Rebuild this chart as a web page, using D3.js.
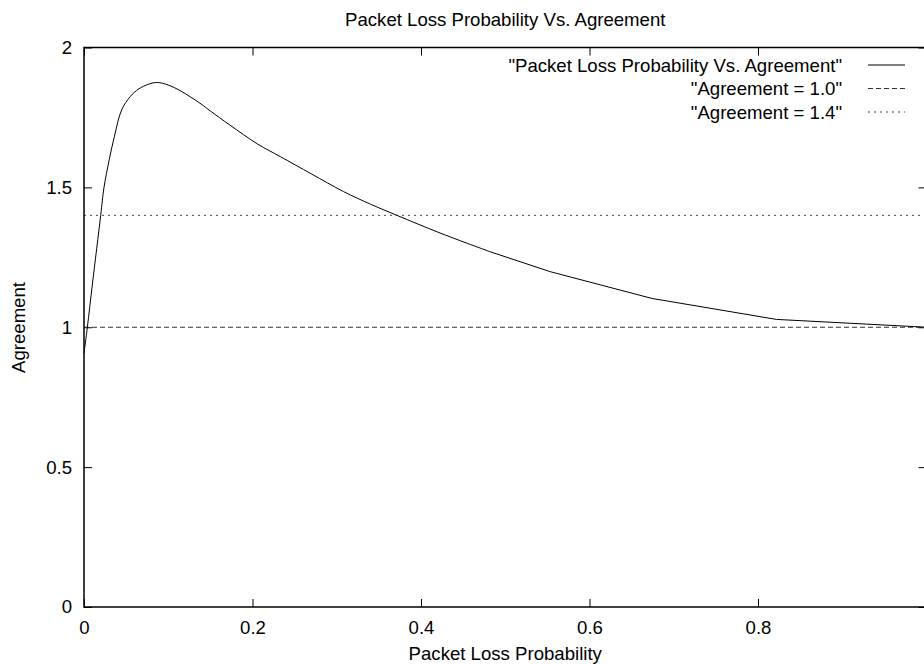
<!DOCTYPE html>
<html>
<head>
<meta charset="utf-8">
<script src="https://cdn.jsdelivr.net/npm/d3@7"></script>
<style>
  body { margin: 0; background: #fff; }
  svg { display: block; font-family: "Liberation Sans", Arial, Helvetica, sans-serif; }
</style>
</head>
<body>
<svg id="chart" width="924" height="664"></svg>
<script>
// ---- data ----
const chartTitle = "Packet Loss Probability Vs. Agreement";
const xLabel = "Packet Loss Probability";
const yLabel = "Agreement";
const lossProb = [0, 0.004, 0.010, 0.0198, 0.0237, 0.030, 0.036, 0.0447, 0.055, 0.065, 0.077, 0.087,
  0.100, 0.114, 0.126, 0.139, 0.150, 0.173, 0.206, 0.233, 0.270, 0.308, 0.340, 0.373, 0.420, 0.455,
  0.482, 0.553, 0.674, 0.822, 1.0];
const agreement = [0.907, 1.0, 1.155, 1.399, 1.499, 1.60, 1.681, 1.777, 1.825, 1.852, 1.869, 1.875,
  1.866, 1.846, 1.824, 1.798, 1.773, 1.723, 1.655, 1.610, 1.548, 1.485, 1.440, 1.398, 1.340, 1.300,
  1.270, 1.199, 1.103, 1.028, 1.0];
const refLevels = [1.0, 1.4];
const legendNames = ['"Packet Loss Probability Vs. Agreement"', '"Agreement = 1.0"', '"Agreement = 1.4"'];
const xTicks = [0, 0.2, 0.4, 0.6, 0.8];
const xTicksAll = [0, 0.2, 0.4, 0.6, 0.8, 1.0];
const yTicks = [0, 0.5, 1, 1.5, 2];

// ---- layout ----
const svg = d3.select("#chart");
const pLeft = 84, pRight = 926.5, pTop = 47.5, pBottom = 607;
const x = d3.scaleLinear().domain([0, 1]).range([pLeft, pRight]);
const y = d3.scaleLinear().domain([0, 2]).range([pBottom, pTop]);
const fs = 18.6;
const styles = [null, "5,3", "2,4"];
const colors = ["#000", "#333", "#444"];

// axes (inward ticks)
const gx = svg.append("g").attr("transform", `translate(0,${pBottom})`)
  .call(d3.axisBottom(x).tickValues(xTicks).tickSize(-8).tickSizeOuter(0).tickPadding(14).tickFormat(d3.format("")));
const gy = svg.append("g").attr("transform", `translate(${pLeft},0)`)
  .call(d3.axisLeft(y).tickValues(yTicks).tickSize(-8).tickSizeOuter(0).tickPadding(12).tickFormat(d3.format("")));
const gt = svg.append("g").attr("transform", `translate(0,${pTop})`)
  .call(d3.axisTop(x).tickValues(xTicksAll).tickSize(-8).tickSizeOuter(0).tickFormat(""));
const gr = svg.append("g").attr("transform", `translate(${pRight},0)`)
  .call(d3.axisRight(y).tickValues(yTicks).tickSize(-8).tickSizeOuter(0).tickFormat(""));
[gx, gy, gt, gr].forEach(g => {
  g.select(".domain").remove();
  g.selectAll(".tick line").attr("stroke", "#000").attr("stroke-width", 1);
  g.selectAll("text").attr("font-size", fs).attr("fill", "#000").attr("font-family", null);
});

// reference lines
refLevels.forEach((v, i) => {
  svg.append("line")
    .attr("x1", x(0)).attr("x2", x(1)).attr("y1", y(v)).attr("y2", y(v))
    .attr("stroke", colors[i + 1]).attr("stroke-width", 1)
    .attr("stroke-dasharray", styles[i + 1]);
});

// curve: smooth where sampled densely, straight segments across the sparse tail
const pts = lossProb.map((p, i) => [p, agreement[i]]);
const splitAt = 0.482;
const line = d3.line().x(d => x(d[0])).y(d => y(d[1]));
svg.append("path")
  .datum(pts.filter(d => d[0] <= splitAt))
  .attr("fill", "none").attr("stroke", "#000").attr("stroke-width", 1)
  .attr("d", line.curve(d3.curveCatmullRom.alpha(0.5)));
svg.append("path")
  .datum(pts.filter(d => d[0] >= splitAt))
  .attr("fill", "none").attr("stroke", "#000").attr("stroke-width", 1)
  .attr("d", line.curve(d3.curveLinear));

// border
svg.append("rect")
  .attr("x", pLeft).attr("y", pTop).attr("width", pRight - pLeft).attr("height", pBottom - pTop)
  .attr("fill", "none").attr("stroke", "#000").attr("stroke-width", 1.5);

// title and axis labels
svg.append("text").attr("x", (pLeft + pRight) / 2).attr("y", 26)
  .attr("text-anchor", "middle").attr("font-size", fs).text(chartTitle);
svg.append("text").attr("x", (pLeft + pRight) / 2).attr("y", 660)
  .attr("text-anchor", "middle").attr("font-size", fs).text(xLabel);
svg.append("text").attr("transform", "translate(25,327.5) rotate(-90)")
  .attr("text-anchor", "middle").attr("font-size", fs).text(yLabel);

// legend
const rowY = [65, 88.5, 112];
legendNames.forEach((name, i) => {
  svg.append("text").attr("x", 842).attr("y", rowY[i] + 6.6)
    .attr("text-anchor", "end").attr("font-size", fs).text(name);
  svg.append("line").attr("x1", 868).attr("x2", 905).attr("y1", rowY[i]).attr("y2", rowY[i])
    .attr("stroke", colors[i]).attr("stroke-width", 1).attr("stroke-dasharray", styles[i]);
});
</script>
</body>
</html>
